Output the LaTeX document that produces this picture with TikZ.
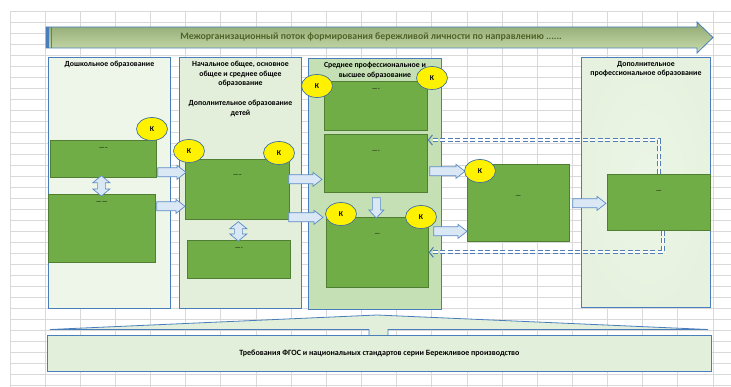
\documentclass[tikz,border=0pt]{standalone}
\usepackage{fontspec}
\setmainfont{Carlito}
\usetikzlibrary{arrows.meta}
\usetikzlibrary{positioning}
\usetikzlibrary{calc}
\usetikzlibrary{shapes.geometric}

\definecolor{gridgray}{HTML}{D9D9D9}
\definecolor{colblue}{HTML}{4A7EBB}
\definecolor{preschoolfill}{HTML}{EEF5E9}
\definecolor{schoolfill}{HTML}{E3EFDB}
\definecolor{collegefill}{HTML}{C5E0B4}
\definecolor{furtherfill}{HTML}{E2F0D9}
\definecolor{gboxfill}{HTML}{70AD47}
\definecolor{gboxline}{HTML}{507E32}
\definecolor{kline}{HTML}{41719C}
\definecolor{arrfill}{HTML}{DAE7F5}
\definecolor{arrline}{HTML}{5B8CC6}
\definecolor{dashblue}{HTML}{4F7FB5}
\definecolor{bannertop}{HTML}{8FA870}
\definecolor{bannerbot}{HTML}{C9DCAD}
\definecolor{bannertext}{HTML}{4F6228}
\definecolor{reqfill}{HTML}{E2EFDA}

\tikzset{
  gridline/.style={draw=gridgray, line width=0.9pt},
  banner/.style={draw=colblue, line width=0.8pt, top color=bannertop, bottom color=bannerbot},
  bannerlbl/.style={inner sep=0pt, text=bannertext, font=\bfseries\fontsize{9.8}{11}\selectfont},
  colbox/.style={draw=colblue, line width=0.9pt, anchor=north west, inner sep=0pt},
  coltitle/.style={inner sep=0pt, align=center, font=\bfseries\fontsize{7.8}{9.7}\selectfont},
  gbox/.style={draw=gboxline, fill=gboxfill, line width=0.7pt, anchor=north west, inner sep=0pt},
  lbl/.style={anchor=center, inner sep=0pt, font=\fontsize{6.5}{7}\selectfont},
  kmark/.style={ellipse, draw=kline, fill=yellow, line width=0.7pt, minimum width=31pt,
    minimum height=23pt, inner sep=0pt, font=\bfseries\fontsize{7.5}{8}\selectfont},
  barrow/.style={draw=arrline, fill=arrfill, line width=0.7pt, line join=miter},
  dashlink/.style={draw=dashblue, line width=1.1pt, dash pattern=on 5pt off 2.5pt,
    double=white, double distance=1.8pt, -{Straight Barb[length=4pt, width=10pt]}},
  reqtri/.style={draw=colblue, fill=reqfill, line width=0.8pt},
  reqbox/.style={draw=colblue, fill=reqfill, line width=0.8pt, anchor=north west,
    inner sep=0pt, font=\bfseries\fontsize{8}{9}\selectfont}
}

% block arrow: from, to, half body, half head, head length
\newcommand{\blockarrow}[5]{%
  \path[barrow] let \p1=(#1), \p2=(#2), \p3=($(\p2)!#5!(\p1)$) in
    ($(\p1)!#3!90:(\p2)$) -- ($(\p3)!#3!90:(\p2)$) -- ($(\p3)!#4!90:(\p2)$) -- (\p2)
    -- ($(\p3)!#4!-90:(\p2)$) -- ($(\p3)!#3!-90:(\p2)$) -- ($(\p1)!#3!-90:(\p2)$) -- cycle;}
% two-headed block arrow
\newcommand{\dblarrow}[5]{%
  \path[barrow] let \p1=(#1), \p2=(#2), \p3=($(\p1)!#5!(\p2)$), \p4=($(\p2)!#5!(\p1)$) in
    (\p1) -- ($(\p3)!#4!90:(\p2)$) -- ($(\p3)!#3!90:(\p2)$) -- ($(\p4)!#3!90:(\p2)$)
    -- ($(\p4)!#4!90:(\p2)$) -- (\p2) -- ($(\p4)!#4!-90:(\p2)$) -- ($(\p4)!#3!-90:(\p2)$)
    -- ($(\p3)!#3!-90:(\p2)$) -- ($(\p3)!#4!-90:(\p2)$) -- cycle;}

\begin{document}
\begin{tikzpicture}[x=1pt, y=-1pt]
\useasboundingbox (0,0) rectangle (731,387);

% spreadsheet grid
\foreach \i in {0,...,20}
  \draw[gridline] (10+35.15*\i,11) -- (10+35.15*\i,387);
\foreach \j in {0,...,34}
  \draw[gridline] (10,11+11*\j) -- (731,11+11*\j);

% banner
\draw[banner] (46,27) -- (697,27) -- (697,22) -- (713,37.5) -- (697,53) -- (697,48) -- (46,48) -- cycle;
\fill[colblue] (46,27) rectangle (49,48);
\draw[colblue, line width=0.8pt] (51,27) -- (51,48);
\node[bannerlbl] (flow) at (371,36.5) {Межорганизационный поток формирования бережливой личности по направлению ......};

% columns
\node[colbox, fill=preschoolfill, minimum width=122pt, minimum height=251pt] (preschool) at (48,57) {};
\node[colbox, fill=schoolfill, minimum width=122pt, minimum height=251pt] (school) at (179,57) {};
\node[colbox, fill=collegefill, minimum width=133pt, minimum height=251pt] (college) at (308,58) {};
\node[colbox, inner color=white!35!furtherfill, outer color=furtherfill!85!white, minimum width=129pt, minimum height=250pt] (further) at (581,57) {};

\node[coltitle, below=4pt of preschool.north] (preschooltitle) {Дошкольное образование};
\node[coltitle, below=4pt of school.north] (schooltitle) {Начальное общее, основное\\общее и среднее общее\\образование\\[9.7pt]Дополнительное образование\\детей};
\node[coltitle, below=4pt of college.north] (collegetitle) {Среднее профессиональное и\\высшее образование};
\node[coltitle, below=4pt of further.north] (furthertitle) {Дополнительное\\профессиональное образование};

% green boxes
\node[gbox, minimum width=106pt, minimum height=37pt, label={[lbl, yshift=-8pt]north:-----}] (A) at (50,140) {};
\node[gbox, minimum width=107pt, minimum height=68pt, label={[lbl, yshift=-8pt]north:------}] (B) at (48,194) {};
\node[gbox, minimum width=104pt, minimum height=60pt, label={[lbl, yshift=-16pt]north:-----}] (C) at (185,159) {};
\node[gbox, minimum width=103pt, minimum height=38pt, label={[lbl, yshift=-8pt]north:----}] (D) at (187,240) {};
\node[gbox, minimum width=103pt, minimum height=49pt, label={[lbl, yshift=-8pt]north:----}] (E) at (324,81) {};
\node[gbox, minimum width=103pt, minimum height=58pt, label={[lbl, yshift=-17pt]north:----}] (F) at (324,134) {};
\node[gbox, minimum width=102pt, minimum height=70pt, label={[lbl, yshift=-17pt]north:---}] (G) at (326,217) {};
\node[gbox, minimum width=102pt, minimum height=77pt, label={[lbl, yshift=-32pt]north:---}] (H) at (467,164) {};
\node[gbox, minimum width=103pt, minimum height=56pt, label={[lbl, yshift=-17pt]north:---}] (I) at (607,174) {};

% block arrows
\blockarrow{$(A.east)+(1,13.5)$}{$(C.west)+(1,-17)$}{4.5pt}{7pt}{9pt}
\blockarrow{$(B.east)+(1,-22)$}{$(C.west)+(0,17)$}{4.5pt}{7pt}{9pt}
\blockarrow{$(C.east)+(-1,-10)$}{$(F.west)+(-2,16)$}{4.5pt}{7pt}{9pt}
\blockarrow{$(C.east)+(-1,28)$}{$(G.west)+(-3,-35)$}{4.5pt}{7pt}{9pt}
\blockarrow{$(F.east)+(2,8)$}{$(H.west)+(-2,-31.5)$}{4.5pt}{7pt}{9pt}
\blockarrow{$(G.east)+(5,-21)$}{$(H.west)+(0,28.5)$}{4.5pt}{7pt}{9pt}
\blockarrow{$(H.east)+(3,0.5)$}{$(I.west)+(-1,1)$}{4.5pt}{7pt}{9pt}
\blockarrow{$(F.south)+(0.5,5)$}{$(G.north)+(-1,1)$}{4pt}{7.5pt}{8pt}
\dblarrow{$(A.south)+(-2,-2)$}{$(B.north)+(-0.5,2)$}{4pt}{8.5pt}{7pt}
\dblarrow{$(C.south)+(1,2)$}{$(D.north)+(-0.5,1)$}{4pt}{8.5pt}{7pt}

% feedback links
\draw[dashlink] (I.north) |- ([yshift=-6pt]F.north east);
\draw[dashlink] ([xshift=4.5pt]I.south) |- (G.east);

% competence marks
\node[kmark] (kA) at (152,129) {К};
\node[kmark] (kC1) at (189,151) {К};
\node[kmark] (kC2) at (279,153) {К};
\node[kmark] (kE1) at (317,86) {К};
\node[kmark] (kE2) at (432,78) {К};
\node[kmark] (kG1) at (341,214) {К};
\node[kmark] (kG2) at (421,217) {К};
\node[kmark] (kH) at (480,171) {К};

% standards
\draw[reqtri] (50,329.5) -- (377,315) -- (708,329.5) -- (388,329.5) -- (388,336) -- (369,336) -- (369,329.5) -- cycle;
\node[reqbox, minimum width=664pt, minimum height=36pt] (req) at (47,335) {Требования ФГОС и национальных стандартов серии Бережливое производство};
\end{tikzpicture}
\end{document}
